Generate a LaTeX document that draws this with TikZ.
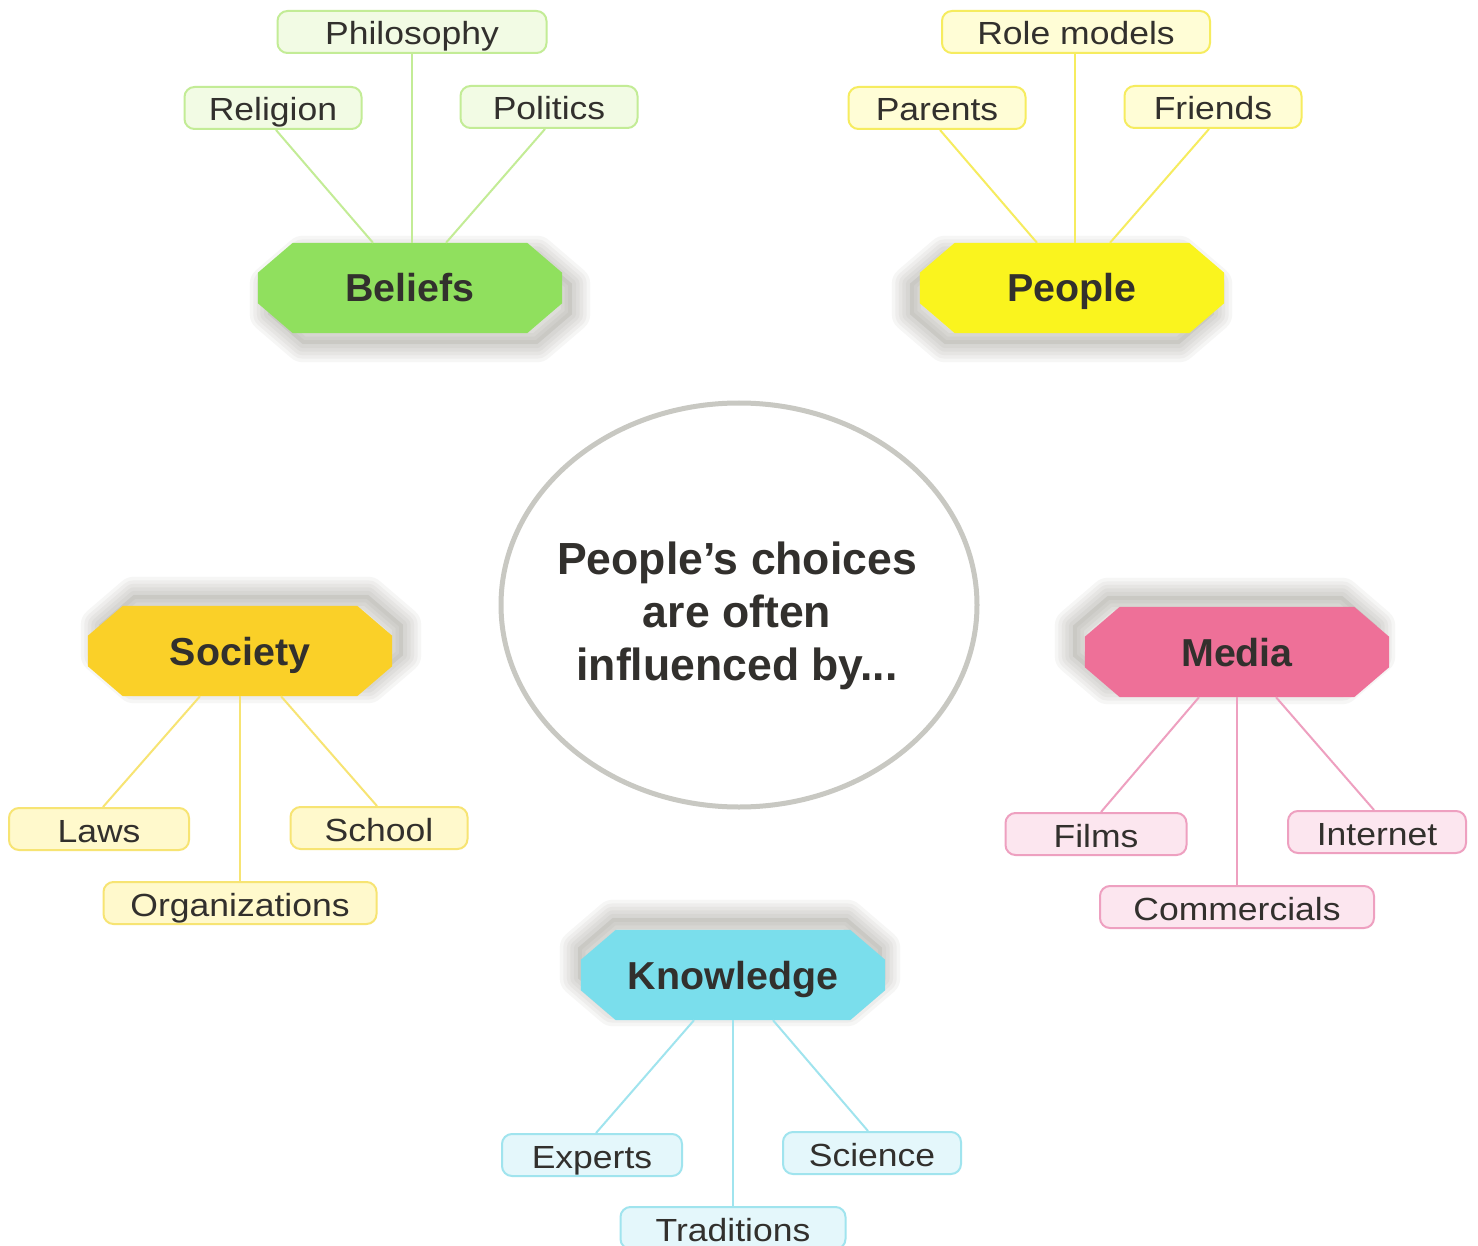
\documentclass[tikz,border=0pt]{standalone}
\usepackage{fontspec}
\setmainfont{Liberation Sans}
\newfontfamily\subfont[FakeStretch=1.11]{Liberation Sans}
\newfontfamily\hexfont[FakeStretch=1.01]{Liberation Sans}
\newfontfamily\midfont[FakeStretch=0.99]{Liberation Sans}
\usetikzlibrary{shapes.geometric}
\pgfdeclarelayer{back}
\pgfdeclarelayer{bg}
\pgfsetlayers{back,bg,main}

\definecolor{txt}{RGB}{50,48,45}
\definecolor{gHex}{RGB}{144,224,94}
\definecolor{gLine}{RGB}{195,236,150}
\definecolor{gFill}{RGB}{242,251,228}
\definecolor{yHex}{RGB}{250,244,30}
\definecolor{yLine}{RGB}{246,236,95}
\definecolor{yFill}{RGB}{255,253,214}
\definecolor{oHex}{RGB}{250,208,40}
\definecolor{oLine}{RGB}{247,228,115}
\definecolor{oFill}{RGB}{255,249,204}
\definecolor{pHex}{RGB}{238,112,152}
\definecolor{pLine}{RGB}{238,160,192}
\definecolor{pFill}{RGB}{252,230,239}
\definecolor{cHex}{RGB}{122,222,236}
\definecolor{cLine}{RGB}{160,228,238}
\definecolor{cFill}{RGB}{228,247,251}
\definecolor{ellc}{RGB}{200,200,194}
\definecolor{shad}{RGB}{110,108,98}

\tikzset{
  hexbox/.style={minimum width=304pt, minimum height=90pt, inner sep=0pt,
    text height=34pt, text depth=6pt,
    text=txt, font=\hexfont\bfseries\fontsize{39}{44}\selectfont},
  subbox/.style={draw=#1, fill, line width=2pt, rounded corners=10pt,
    minimum height=42pt, inner sep=0pt, text=txt,
    text height=30pt, text depth=4pt,
    font=\subfont\fontsize{32}{36}\selectfont},
  link/.style={draw=#1, line width=2pt},
}

% hexagon path around a rectangular node
\newcommand\hexpath[1]{([xshift=35pt]#1.north west) -- ([xshift=-35pt]#1.north east) -- ([yshift=-30pt]#1.north east) -- ([yshift=30pt]#1.south east) -- ([xshift=-35pt]#1.south east) -- ([xshift=35pt]#1.south west) -- ([yshift=30pt]#1.south west) -- ([yshift=-30pt]#1.north west) -- cycle}

% name, x, y, colour, text, shadow dx, shadow dy (pt)
\newcommand\hexnode[7]{%
  \node[hexbox] (#1) at (#2,#3) {#5};
  \begin{pgfonlayer}{bg}
    \begin{scope}[transform canvas={xshift=#6pt, yshift=#7pt}]
      \fill[shad, opacity=0.12] \hexpath{#1};
      \foreach \w in {36,29,22,15,8}{
        \draw[shad, opacity=0.06, line width=\w pt, line join=round] \hexpath{#1};
      }
    \end{scope}
    \fill[#4] \hexpath{#1};
  \end{pgfonlayer}
}

\begin{document}
\begin{tikzpicture}[x=1pt, y=-1pt]
\begin{pgfonlayer}{back}
\fill[white] (0,0) rectangle (1478,1246);
\end{pgfonlayer}
\useasboundingbox (0,0) rectangle (1478,1246);

% centre
\node[ellipse, draw=ellc, line width=5pt, minimum width=476pt, minimum height=404pt] (centre) at (739,605) {};
\node[align=center, text=txt, font=\midfont\bfseries\fontsize{45}{53}\selectfont] (ctext) at (737,616)
  {People’s choices\\are often\\influenced by...};

% hexagons
\hexnode{beliefs}{410}{288}{gHex}{Beliefs}{10}{-11}
\hexnode{people}{1072}{288}{yHex}{People}{-10}{-11}
\hexnode{society}{240}{651}{oHex}{Society}{11}{11}
\hexnode{media}{1237}{652}{pHex}{Media}{-12}{11}
\hexnode{knowledge}{733}{975}{cHex}{Knowledge}{-3}{12}

% Beliefs
\node[subbox=gLine, fill=gFill, minimum width=269pt] (philosophy) at (412,32) {Philosophy};
\node[subbox=gLine, fill=gFill, minimum width=177pt] (religion) at (273,108) {Religion};
\node[subbox=gLine, fill=gFill, minimum width=177pt] (politics) at (549,107) {Politics};
\draw[link=gLine] (philosophy.south) -- (philosophy.south |- beliefs.north);
\draw[link=gLine] ([xshift=3pt]religion.south) -- ([xshift=-37pt]beliefs.north);
\draw[link=gLine] ([xshift=-4pt]politics.south) -- ([xshift=36pt]beliefs.north);

% People
\node[subbox=yLine, fill=yFill, minimum width=268pt] (rolemodels) at (1076,32) {Role models};
\node[subbox=yLine, fill=yFill, minimum width=177pt] (parents) at (937,108) {Parents};
\node[subbox=yLine, fill=yFill, minimum width=177pt] (friends) at (1213,107) {Friends};
\draw[link=yLine] ([xshift=-1pt]rolemodels.south) -- ([xshift=-1pt]rolemodels.south |- people.north);
\draw[link=yLine] ([xshift=3pt]parents.south) -- ([xshift=-35pt]people.north);
\draw[link=yLine] ([xshift=-4pt]friends.south) -- ([xshift=38pt]people.north);

% Society
\node[subbox=oLine, fill=oFill, minimum width=180pt] (laws) at (99,829) {Laws};
\node[subbox=oLine, fill=oFill, minimum width=177pt] (school) at (379,828) {School};
\node[subbox=oLine, fill=oFill, minimum width=273pt] (organizations) at (240,903) {Organizations};
\draw[link=oLine] ([xshift=-40pt]society.south) -- ([xshift=4pt]laws.north);
\draw[link=oLine] (society.south) -- (organizations.north);
\draw[link=oLine] ([xshift=41pt]society.south) -- ([xshift=-2pt]school.north);

% Media
\node[subbox=pLine, fill=pFill, minimum width=181pt] (films) at (1096,834) {Films};
\node[subbox=pLine, fill=pFill, minimum width=178pt] (internet) at (1377,832) {Internet};
\node[subbox=pLine, fill=pFill, minimum width=274pt] (commercials) at (1237,907) {Commercials};
\draw[link=pLine] ([xshift=-38pt]media.south) -- ([xshift=5pt]films.north);
\draw[link=pLine] (media.south) -- (commercials.north);
\draw[link=pLine] ([xshift=39pt]media.south) -- ([xshift=-3pt]internet.north);

% Knowledge
\node[subbox=cLine, fill=cFill, minimum width=180pt] (experts) at (592,1155) {Experts};
\node[subbox=cLine, fill=cFill, minimum width=178pt] (science) at (872,1153) {Science};
\node[subbox=cLine, fill=cFill, minimum width=225pt] (traditions) at (733,1228) {Traditions};
\draw[link=cLine] ([xshift=-39pt]knowledge.south) -- ([xshift=4pt]experts.north);
\draw[link=cLine] (knowledge.south) -- (traditions.north);
\draw[link=cLine] ([xshift=40pt]knowledge.south) -- ([xshift=-4pt]science.north);
\end{tikzpicture}
\end{document}
